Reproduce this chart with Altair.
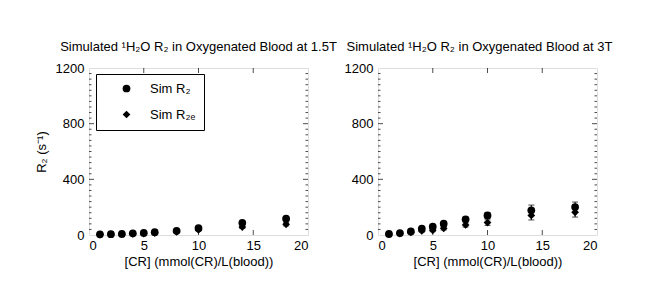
import altair as alt
import pandas as pd

# ---------------- data ----------------
CR = [1, 2, 3, 4, 5, 6, 8, 10, 14, 18]
SERIES = ["Sim R₂", "Sim R₂ₑ"]

# 1.5 T
R2_15 = [5, 6, 8, 12, 15, 20, 30, 50, 88, 117]
R2_15_err = [1, 1, 2, 2, 3, 3, 5, 7, 10, 12]
R2e_15 = [3, 4, 6, 8, 10, 14, 22, 36, 57, 77]
R2e_15_err = [1, 1, 2, 2, 3, 3, 5, 6, 9, 11]

# 3 T
R2_3 = [8, 14, 26, 46, 60, 81, 113, 141, 177, 201]
R2_3_err = [2, 3, 5, 8, 10, 12, 15, 20, 38, 36]
R2e_3 = [5, 10, 18, 29, 34, 48, 72, 89, 141, 163]
R2e_3_err = [2, 3, 5, 8, 10, 12, 15, 20, 33, 34]

X_TICKS = [0, 5, 10, 15, 20]
X_INNER = [5, 10, 15]
Y_TICKS = [0, 400, 800, 1200]
Y_MINOR = [v for v in range(40, 1200, 40) if v % 400]

TITLE_15 = "Simulated ¹H₂O R₂ in Oxygenated Blood at 1.5T"
TITLE_3 = "Simulated ¹H₂O R₂ in Oxygenated Blood at 3T"
X_TITLE = "[CR] (mmol(CR)/L(blood))"
Y_TITLE = "R₂ (s⁻¹)"

FONT = "Liberation Sans"
FS = 13


def make_df(r2, r2err, r2e, r2eerr):
    rows = []
    for x, v, e in zip(CR, r2, r2err):
        rows.append({"x": x, "y": v, "lo": v - e, "hi": v + e, "series": SERIES[0]})
    for x, v, e in zip(CR, r2e, r2eerr):
        rows.append({"x": x, "y": v, "lo": v - e, "hi": v + e, "series": SERIES[1]})
    return pd.DataFrame(rows)


xscale = alt.Scale(domain=[0, 20], nice=False, zero=False)
yscale = alt.Scale(domain=[0, 1200], nice=False)

ymaj_df = pd.DataFrame([{"x": xe, "y": v} for xe in [0, 20] for v in Y_TICKS[1:-1]])
ymin_df = pd.DataFrame([{"x": xe, "y": v} for xe in [0, 20] for v in Y_MINOR])
xmaj_df = pd.DataFrame([{"x": v, "y": ye} for ye in [0, 1200] for v in X_INNER])


def panel(df, title, ytitle, dx):
    xax = alt.X("x:Q", scale=xscale,
                axis=alt.Axis(values=X_TICKS, format="d", title=X_TITLE, ticks=False, domain=False,
                              grid=False, labelPadding=4, titlePadding=3,
                              labelFont=FONT, labelFontSize=FS, labelColor="black",
                              titleFont=FONT, titleFontSize=FS, titleFontWeight="normal",
                              titleColor="black"))
    yax = alt.Y("y:Q", scale=yscale,
                axis=alt.Axis(values=Y_TICKS, format="d", title=ytitle, ticks=False, domain=False,
                              grid=False, labelPadding=5, titlePadding=7,
                              labelFont=FONT, labelFontSize=FS, labelColor="black",
                              titleFont=FONT, titleFontSize=FS, titleFontWeight="normal",
                              titleColor="black"))
    base_x = alt.X("x:Q", scale=xscale)
    base_y = alt.Y("y:Q", scale=yscale)

    ymaj = alt.Chart(ymaj_df).mark_tick(orient="horizontal", size=10, thickness=1,
                                        color="black", clip=True).encode(x=xax, y=yax)
    ymin = alt.Chart(ymin_df).mark_tick(orient="horizontal", size=5, thickness=1,
                                        color="black", clip=True).encode(x=base_x, y=base_y)
    xmaj = alt.Chart(xmaj_df).mark_tick(orient="vertical", size=10, thickness=1,
                                        color="black", clip=True).encode(x=base_x, y=base_y)

    rules = alt.Chart(df).mark_rule(color="black", strokeWidth=1).encode(
        x=base_x, y=alt.Y("lo:Q", scale=yscale), y2="hi:Q")
    cap_lo = alt.Chart(df).mark_tick(orient="horizontal", size=6, thickness=1,
                                     color="black").encode(x=base_x, y=alt.Y("lo:Q", scale=yscale))
    cap_hi = alt.Chart(df).mark_tick(orient="horizontal", size=6, thickness=1,
                                     color="black").encode(x=base_x, y=alt.Y("hi:Q", scale=yscale))
    pts = alt.Chart(df).mark_point(filled=True, opacity=1, color="black", size=60).encode(
        x=base_x, y=base_y,
        shape=alt.Shape("series:N",
                        scale=alt.Scale(domain=SERIES, range=["circle", "diamond"]),
                        legend=alt.Legend(title=None, orient="none", legendX=7, legendY=6,
                                          strokeColor="black", fillColor="white",
                                          padding=8, symbolOffset=16, labelOffset=17,
                                          rowPadding=11, symbolSize=60,
                                          symbolFillColor="black", symbolStrokeColor="black",
                                          labelFont=FONT, labelFontSize=FS, labelColor="black",
                                          cornerRadius=0)))
    return alt.layer(ymaj, ymin, xmaj, rules, cap_lo, cap_hi, pts).properties(
        width=219, height=167,
        title=alt.TitleParams(title, font=FONT, fontSize=FS, fontWeight="normal",
                              color="black", offset=8, dx=dx))


left = panel(make_df(R2_15, R2_15_err, R2e_15, R2e_15_err), TITLE_15, Y_TITLE, 0)
right = panel(make_df(R2_3, R2_3_err, R2e_3, R2e_3_err), TITLE_3, None, -8)

chart = alt.hconcat(left, right, spacing=70, bounds="flush").properties(
    padding={"left": 26, "top": 32, "right": 5, "bottom": 5}
).configure_view(stroke="black", strokeWidth=1).configure(background="white")

chart.save("out.html", embed_options={"renderer": "svg", "actions": False})
